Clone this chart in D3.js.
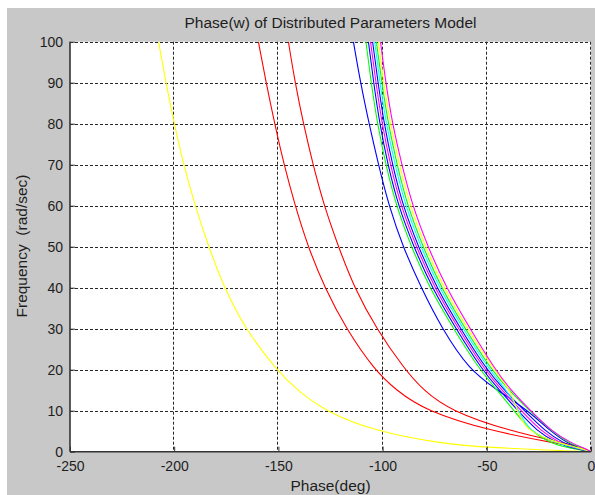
<!DOCTYPE html>
<html>
<head>
<meta charset="utf-8">
<script src="https://cdn.jsdelivr.net/npm/d3@7"></script>
<style>
  body { margin: 0; background: #ffffff; }
  text { font-family: "Liberation Sans", Arial, sans-serif; fill: #1e1e1e; }
</style>
</head>
<body>
<div id="wrapper"></div>
<script>
// frequency levels (rad/sec) where each curve was read
var freq = [0, 1, 2, 5, 10, 15, 20, 30, 40, 50, 60, 70, 80, 90, 100];

// phase (deg) of each curve at those frequencies
var yellowFar = [0, -50, -72, -104, -128, -141, -151, -166, -176, -183.5, -190, -195.5, -200, -204, -207.5];
var redLeft   = [0, -5, -16, -48, -79.5, -93.5, -104, -117.5, -127.8, -135.8, -142, -147.3, -151.8, -155.9, -159.6];
var redRight  = [0, -4, -12, -39, -67.6, -80.5, -89.3, -103, -113.6, -121.2, -128.1, -133.4, -138, -142, -145.2];
var blueOut   = [0, -6, -11, -19.5, -30, -45, -58.5, -71.5, -81.5, -90.3, -97, -102, -106.5, -110.6, -114];
var green1    = [0, -11, -19, -29, -37, -45, -53.5, -66, -77.5, -86.3, -93.5, -98.5, -102.5, -105.5, -108];
var blue1     = [0, -9, -16, -26, -35, -44, -52.3, -64.8, -76.3, -85.1, -92.5, -97.5, -101.4, -104.3, -106.8];
var magenta1  = [0, -8, -14.5, -24, -33.5, -42.8, -51.1, -63.6, -75.1, -83.9, -91.3, -96.3, -100.3, -103.2, -105.8];
var blue2     = [0, -7, -13, -22, -32, -41.6, -50.1, -62.6, -74.1, -82.9, -90.3, -95.3, -99.3, -102.2, -104.8];
var cyan1     = [0, -7, -16, -30, -34.5, -40.4, -48.9, -61.4, -72.9, -81.7, -89.1, -94.1, -98.3, -101.3, -103.8];
var green2    = [0, -5, -10, -19, -29.5, -39.4, -47.9, -60.4, -71.9, -80.7, -88.1, -93.1, -97.3, -100.4, -103];
var yellow2   = [0, -6, -15, -31, -35.5, -38.5, -46.7, -59.2, -70.7, -79.5, -86.9, -91.9, -96.3, -99.5, -102];
var magenta2  = [0, -4, -9, -19, -29, -38.5, -46, -58, -69.5, -78.3, -85.7, -90.8, -95.3, -98.5, -101];

// draw order + colours (matlab style)
var series = [
    {vals: yellowFar, color: "#ffff00"},
    {vals: redLeft, color: "#ff0000"},
    {vals: redRight, color: "#ff0000"},
    {vals: blueOut, color: "#0000ff"},
    {vals: green1, color: "#00ff00"},
    {vals: blue1, color: "#0000ff"},
    {vals: magenta1, color: "#ff00ff"},
    {vals: blue2, color: "#0000ff"},
    {vals: cyan1, color: "#00ffff"},
    {vals: green2, color: "#00ff00"},
    {vals: yellow2, color: "#ffff00"},
    {vals: magenta2, color: "#ff00ff"}
];

var xTicks = [-250, -200, -150, -100, -50, 0];
var yTicks = [0, 10, 20, 30, 40, 50, 60, 70, 80, 90, 100];

var width = 595, height = 495;
// plot box edges (not "top": that name is taken by window.top)
var pLeft = 70, pRight = 591, pTop = 41.7, pBottom = 451.7;

var svg = d3.select("#wrapper")
    .append("svg")
    .attr("width", width)
    .attr("height", height);

// grey figure background
svg.append("rect")
    .attr("x", 7).attr("y", 8)
    .attr("width", width - 7).attr("height", height - 8)
    .attr("fill", "#c8c8c8");

var x = d3.scaleLinear().domain([-250, 0]).range([pLeft, pRight]);
var y = d3.scaleLinear().domain([0, 100]).range([pBottom, pTop]);

// white axes area
svg.append("rect")
    .attr("x", pLeft).attr("y", pTop)
    .attr("width", pRight - pLeft).attr("height", pBottom - pTop)
    .attr("fill", "#ffffff");

svg.append("clipPath").attr("id", "clip")
    .append("rect")
    .attr("x", pLeft).attr("y", pTop)
    .attr("width", pRight - pLeft).attr("height", pBottom - pTop);

// dashed grid
var grid = svg.append("g")
    .attr("stroke", "#262626")
    .attr("stroke-width", 1)
    .attr("stroke-dasharray", "3,2");

grid.selectAll(".vg")
    .data(xTicks.slice(1))
    .enter().append("line")
    .attr("x1", function(d){ return Math.round(x(d)) - 0.5; })
    .attr("x2", function(d){ return Math.round(x(d)) - 0.5; })
    .attr("y1", pTop).attr("y2", pBottom);

grid.selectAll(".hg")
    .data(yTicks.slice(1))
    .enter().append("line")
    .attr("y1", function(d){ return Math.round(y(d)) + 0.5; })
    .attr("y2", function(d){ return Math.round(y(d)) + 0.5; })
    .attr("x1", pLeft).attr("x2", pRight);

// the curves - b-spline so the read points give smooth lines
var line = d3.line()
    .x(function(d){ return x(d[0]); })
    .y(function(d){ return y(d[1]); })
    .curve(d3.curveBasis);

svg.append("g")
    .attr("clip-path", "url(#clip)")
    .selectAll("path")
    .data(series)
    .enter().append("path")
    .attr("fill", "none")
    .attr("stroke", function(d){ return d.color; })
    .attr("stroke-width", 1.1)
    .attr("d", function(d){
        var pts = d.vals.map(function(v, i){ return [v, freq[i]]; });
        pts.reverse(); // top of the plot first
        return line(pts);
    });

// axes: ticks inside, plain hyphen for negatives like matlab
var xAxis = d3.axisBottom(x).tickValues(xTicks).tickSize(-5).tickPadding(9)
    .tickFormat(function(d){ return String(d); });
var yAxis = d3.axisLeft(y).tickValues(yTicks).tickSize(-5).tickPadding(7)
    .tickFormat(function(d){ return String(d); });

var gx = svg.append("g")
    .attr("transform", "translate(0," + pBottom + ")")
    .call(xAxis);
var gy = svg.append("g")
    .attr("transform", "translate(" + pLeft + ",0)")
    .call(yAxis);

[gx, gy].forEach(function(g){
    g.select(".domain").attr("stroke", "#333").attr("stroke-width", 1.6);
    g.selectAll(".tick line").attr("stroke", "#333");
    g.selectAll(".tick text")
        .style("font-family", "'Liberation Sans', Arial, sans-serif")
        .style("font-size", "14px")
        .attr("fill", "#1e1e1e");
});
gx.select(".domain").attr("d", "M" + pLeft + ",0H" + pRight);
gy.select(".domain").attr("d", "M0," + pBottom + "V" + pTop);

// titles
svg.append("text")
    .attr("x", (pLeft + pRight) / 2).attr("y", 28)
    .attr("text-anchor", "middle")
    .style("font-size", "15.5px")
    .text("Phase(w) of Distributed Parameters Model");

svg.append("text")
    .attr("x", (pLeft + pRight) / 2).attr("y", 491)
    .attr("text-anchor", "middle")
    .style("font-size", "15.5px")
    .text("Phase(deg)");

svg.append("text")
    .attr("transform", "translate(27," + 246 + ") rotate(-90)")
    .attr("text-anchor", "middle")
    .style("font-size", "15.5px")
    .style("white-space", "pre")
    .text("Frequency  (rad/sec)");
</script>
</body>
</html>
